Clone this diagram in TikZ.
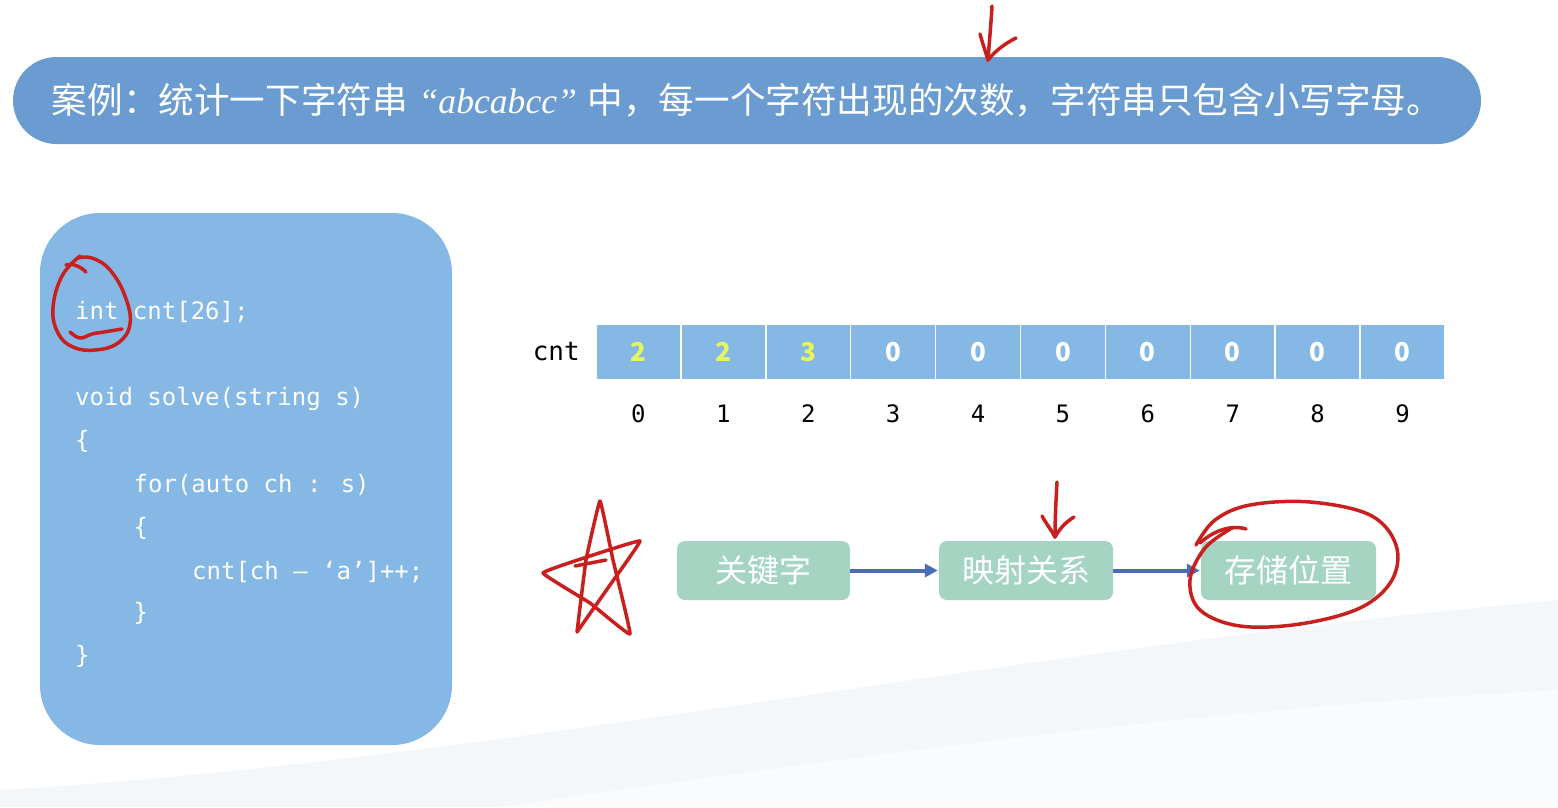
\documentclass[tikz,border=0pt]{standalone}
\usepackage{fontspec}
\newfontfamily\cjk{Noto Sans CJK SC}
\newfontfamily\codefont{DejaVu Sans Mono}
\newfontfamily\serifit{Liberation Serif}
\usetikzlibrary{arrows.meta}
\definecolor{titleblue}{HTML}{6A9BD1}
\definecolor{codeblue}{HTML}{85B8E5}
\definecolor{cellblue}{HTML}{85B8E5}
\definecolor{boxgreen}{HTML}{A5D4C2}
\definecolor{arrowblue}{HTML}{4A6DB5}
\definecolor{hilite}{HTML}{E6F55E}
\definecolor{pen}{HTML}{C8201E}
\definecolor{bgwave}{HTML}{EEF2F8}
\tikzset{
  codeline/.style={anchor=base west, text=white, inner sep=0pt, font=\codefont\fontsize{24}{28}\selectfont},
  cell/.style={minimum width=84.9pt, minimum height=56pt, fill=cellblue, draw=white, line width=1.5pt, inner sep=0pt, text=white, font=\cjk\bfseries\fontsize{26}{30}\selectfont},
  idx/.style={inner sep=0pt, font=\codefont\fontsize{24}{28}\selectfont},
  flowbox/.style={minimum height=59pt, fill=boxgreen, rounded corners=8pt, inner sep=0pt, text=white, font=\cjk\fontsize{32}{36}\selectfont},
  flowarrow/.style={-{Triangle[length=13pt,width=13pt]}, arrowblue, line width=4pt, shorten >=1pt},
  penline/.style={pen, line width=3.5pt, line cap=round, line join=round}
}
\begin{document}
\begin{tikzpicture}[x=1pt,y=-1pt]
\useasboundingbox (0,0) rectangle (1558,807);
\fill[white] (0,0) rectangle (1558,807);
% faint background wave
\fill[bgwave, opacity=0.6] (0,807) -- (0,790) .. controls (500,760) and (1000,650) .. (1558,600) -- (1558,807) -- cycle;
\fill[white, opacity=0.6] (500,807) .. controls (900,750) and (1200,710) .. (1558,690) -- (1558,807) -- cycle;

% title bar
\node[fill=titleblue, rounded corners=43.5pt, minimum width=1468pt, minimum height=87pt, inner sep=0pt,
      text=white, font=\fontsize{35.6}{42}\selectfont] (title) at (747,100.5)
  {{\cjk 案例：统计一下字符串} {\serifit\itshape “abcabcc”} {\cjk 中，每一个字符出现的次数，字符串只包含小写字母。}};

% code box
\node[fill=codeblue, rounded corners=60pt, minimum width=412pt, minimum height=532pt, inner sep=0pt] (code) at (246,479) {};
\node[codeline] (l1) at (75,319) {int cnt[26];};
\node[codeline] (l2) at (75,405) {void solve(string s)};
\node[codeline] (l3) at (75,448) {\{};
\node[codeline] (l4) at (133.5,492) {for(auto ch : s)};
\node[codeline] (l5) at (133.5,535) {\{};
\node[codeline] (l6) at (192,579) {cnt[ch – ‘a’]++;};
\node[codeline] (l7) at (133.5,620) {\}};
\node[codeline] (l8) at (75,663) {\}};

% array
\node[idx, font=\codefont\fontsize{26}{30}\selectfont, anchor=east] (cntlabel) at (580,352) {cnt};
\foreach \i/\v/\c in {0/2/hilite,1/2/hilite,2/3/hilite,3/0/white,4/0/white,5/0/white,6/0/white,7/0/white,8/0/white,9/0/white}{
  \node[cell, text=\c] (c\i) at ({638.45+84.9*\i},352) {\v};
  \node[idx] (i\i) at ({638.45+84.9*\i},414) {\i};
}

% flow
\node[flowbox, minimum width=173pt] (k1) at (763.5,570.5) {关键字};
\node[flowbox, minimum width=174pt] (k2) at (1026,570.5) {映射关系};
\node[flowbox, minimum width=175pt] (k3) at (1288.5,570.5) {存储位置};
\draw[flowarrow] (k1.east) -- (k2.west);
\draw[flowarrow] (k2.east) -- (k3.west);

% red hand annotations
% arrow above title
\draw[penline] (992,6) .. controls (991,25) and (989,45) .. (988,60);
\draw[penline] (980,34) .. controls (983,45) and (986,53) .. (988,60) .. controls (996,50) and (1006,43) .. (1016,38);
% circle around int
\draw[penline] plot[smooth, tension=0.7] coordinates {(80,256) (62,276) (53,308) (58,333) (73,347) (95,350) (118,343) (130,324) (125,296) (110,270) (92,258) (78,258)};
\draw[penline] (66,265) .. controls (72,263) and (80,266) .. (86,272);
\draw[penline] plot[smooth, tension=0.7] coordinates {(70,332) (80,338) (92,334) (104,332) (122,329)};
% star
\draw[penline] plot[smooth, tension=0.15] coordinates {(577,632) (586,560) (600,501) (613,560) (630,634) (590,603) (543,573) (590,556) (640,541) (610,585) (577,632)};
\draw[penline] (575,566) -- (606,560);
% arrow above middle box
\draw[penline] (1057,482) .. controls (1056,500) and (1055,520) .. (1055,537);
\draw[penline] (1042,516) .. controls (1047,525) and (1052,531) .. (1055,537) .. controls (1060,528) and (1066,522) .. (1074,517);
% circle around last box
\draw[penline] plot[smooth, tension=0.6] coordinates {(1232,528) (1205,548) (1190,580) (1200,610) (1240,626) (1300,624) (1360,608) (1392,580) (1396,545) (1370,515) (1310,502) (1250,505) (1215,520) (1196,545)};
\draw[penline] (1200,543) .. controls (1212,532) and (1230,524) .. (1246,529);
\end{tikzpicture}
\end{document}
